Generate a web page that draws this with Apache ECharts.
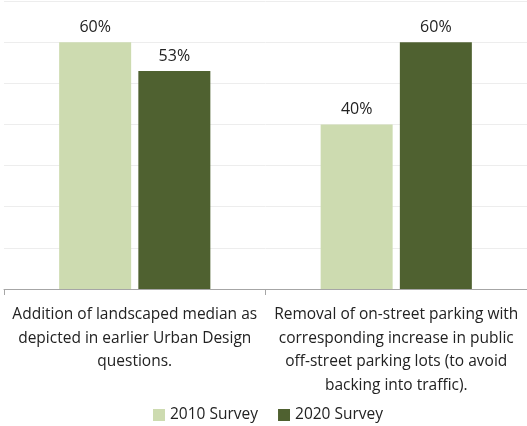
<!DOCTYPE html>
<html>
<head>
<meta charset="utf-8">
<script src="https://cdn.jsdelivr.net/npm/echarts@6/dist/echarts.min.js"></script>
<style>
  html, body { margin: 0; padding: 0; background: #fff; }
  #chart { width: 527px; height: 426px; }
</style>
</head>
<body>
<div id="chart"></div>
<script>
// Survey items (line breaks as they wrap under each group)
const categories = [
  'Addition of landscaped median as\ndepicted in earlier Urban Design\nquestions.',
  'Removal of on-street parking with\ncorresponding increase in public\noff-street parking lots (to avoid\nbacking into traffic).'
];
const seriesNames = ['2010 Survey', '2020 Survey'];
const survey2010 = [60, 40];
const survey2020 = [53, 60];

const FONT = '"Open Sans", "Noto Sans", sans-serif';
const TEXT = '#222222';
const colors = ['#CDDBB0', '#4F6130'];

const chart = echarts.init(document.getElementById('chart'), null, { renderer: 'canvas' });

const labelStyle = {
  show: true,
  position: 'top',
  distance: 7,
  formatter: p => p.value + '%',
  fontFamily: FONT,
  fontSize: 16,
  color: TEXT
};

chart.setOption({
  animation: false,
  textStyle: { fontFamily: FONT },
  grid: { left: 4, right: 0, top: 1, bottom: 137, containLabel: false },
  legend: {
    top: 407,
    left: 153,
    padding: 0,
    itemWidth: 12,
    itemHeight: 12,
    itemGap: 20,
    icon: 'rect',
    textStyle: { fontFamily: FONT, fontSize: 15.5, color: TEXT },
    data: seriesNames
  },
  xAxis: {
    type: 'category',
    data: categories,
    axisLine: { lineStyle: { color: '#A6A6A6', width: 1 } },
    axisTick: { show: true, length: 6, alignWithLabel: false, lineStyle: { color: '#A6A6A6' } },
    axisLabel: {
      interval: 0,
      margin: 14,
      fontFamily: FONT,
      fontSize: 15.5,
      lineHeight: 23.5,
      color: TEXT,
      align: 'center'
    }
  },
  yAxis: {
    type: 'value',
    min: 0,
    max: 70,
    interval: 10,
    axisLine: { show: false },
    axisTick: { show: false },
    axisLabel: { show: false },
    splitLine: { lineStyle: { color: '#EDEDED', width: 1 } }
  },
  series: [
    {
      name: seriesNames[0],
      type: 'bar',
      data: survey2010,
      barWidth: 72,
      barGap: '10%',
      itemStyle: { color: colors[0] },
      label: labelStyle
    },
    {
      name: seriesNames[1],
      type: 'bar',
      data: survey2020,
      barWidth: 72,
      barGap: '10%',
      itemStyle: { color: colors[1] },
      label: labelStyle
    }
  ]
});
</script>
</body>
</html>
